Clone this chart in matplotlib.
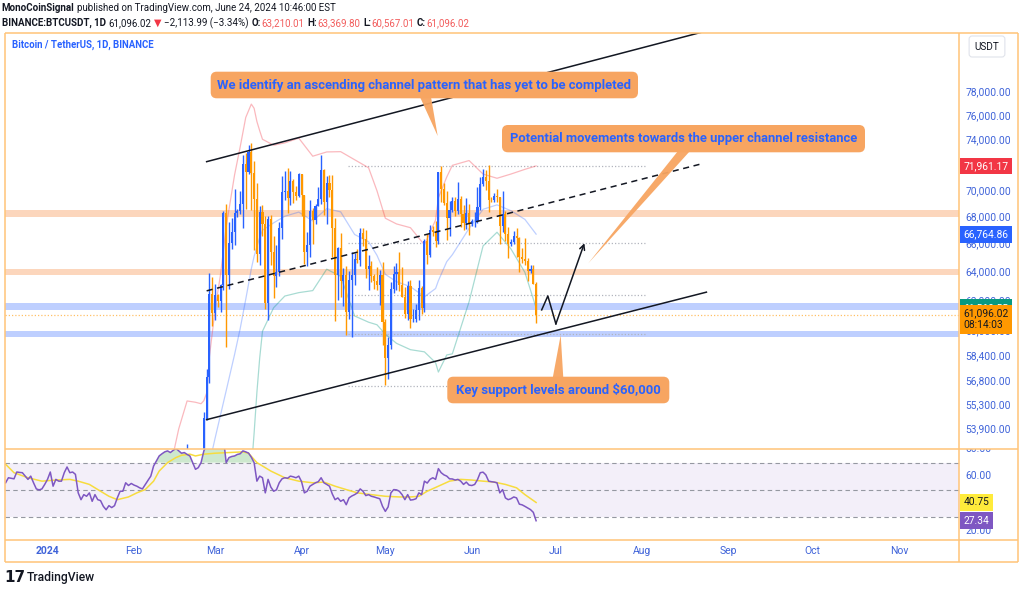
import numpy as np
import pandas as pd
import matplotlib
matplotlib.use("Agg")
import matplotlib.pyplot as plt
import matplotlib.dates as mdates
import matplotlib.text as mtext
from matplotlib.patches import FancyBboxPatch, Polygon
from matplotlib.transforms import Bbox, TransformedBbox
from matplotlib.ticker import NullLocator, NullFormatter

plt.rcParams['font.family'] = ['Roboto', 'DejaVu Sans']

# ---------------- data: daily BTC/USDT candles ----------------
candle_start = '2024-02-19'
opens = [52140, 51780, 52280, 51850, 51300, 50730, 51570, 51730, 54495, 57085, 62504,
         61198, 62440, 62029, 63168, 68330, 63801, 66106, 66925, 68300, 68498, 69020, 72123, 71481, 73083, 71397, 69403,
         65316, 68390, 67548, 61912, 67913, 65491, 63778, 64062, 67234, 69959, 69987, 69455, 70744, 69892, 69645,
         71333, 69702, 65446, 65980, 68508, 67837, 68896, 69362, 71632, 69139, 70587, 70060, 67195, 63821, 65738,
         63426, 63811, 61276, 63512, 63843, 64994, 64926, 66837, 66407, 64276, 64481, 63755, 63419, 63113, 63841,
         60636, 58254, 59123, 62889, 63891, 64031, 63161, 62334, 61187, 63049, 60792, 60793, 61448, 62901, 61553,
         66267, 65231, 67051, 66940, 66278, 71446, 70136, 69122, 67929, 68526, 69265, 68518, 69394, 68296, 67578, 68364,
         67491, 67706, 67751, 68804, 70567, 71082, 70757, 69342, 69305, 69647, 69512, 67332, 68241, 66756, 66011,
         66191, 66639, 66490, 65140, 64960, 64828, 64096, 64252, 63210]
highs = [52490, 52985, 52370, 52060, 51550, 51700, 51960, 54938, 57588, 64000, 63676,
         63230, 62480, 63230, 68500, 69000, 67637, 67985, 70136, 68670, 70000, 72800, 72969, 73650, 73777, 72358, 70613,
         68845, 68920, 68106, 68100, 68200, 66650, 65970, 67624, 71150, 71561, 71769, 71552, 70913, 70357, 71366,
         71342, 69708, 66914, 69291, 68725, 69000, 70326, 72797, 71758, 71172, 71256, 71227, 67932, 65840, 66867,
         64355, 64486, 64125, 65481, 65419, 65665, 67233, 67199, 67075, 65275, 64789, 63923, 64370, 64174, 64735,
         60841, 59602, 63320, 64494, 64646, 65500, 64390, 62985, 63421, 63469, 61490, 61818, 63450, 63099, 66444,
         66752, 67459, 67387, 67700, 71515, 71979, 70623, 70041, 69220, 69562, 69562, 70687, 69590, 68920, 69500, 69025,
         67857, 68409, 70288, 71063, 71758, 71625, 71997, 69582, 69850, 70195, 69560, 69999, 68449, 67294, 66402,
         66996, 67188, 66566, 65727, 66482, 65066, 64520, 64546, 63370]
lows = [51680, 50625, 50800, 50930, 50520, 50580, 51280, 50931, 54450, 56690, 60364,
        60777, 61593, 61321, 62820, 59005, 62848, 65655, 66000, 68042, 68230, 67194, 68620, 71333, 68555, 65630, 64780,
        64545, 66601, 61500, 60775, 64529, 62260, 63000, 63790, 66385, 69280, 68359, 68904, 69076, 69326, 69565,
        68110, 64586, 64493, 65113, 66011, 67491, 68824, 69043, 68210, 67518, 69571, 65086, 60660, 62134, 62274,
        61716, 59768, 60833, 59651, 63100, 64693, 64500, 65864, 63589, 62783, 63322, 62824, 62781, 61795, 59120,
        56552, 56937, 58849, 62599, 62822, 62700, 62285, 60888, 60769, 60187, 60630, 60632, 60750, 61152, 61319,
        64602, 65119, 66600, 65857, 66060, 69162, 68900, 66312, 66622, 68400, 68128, 68250, 67278, 67075, 67118, 66670,
        67386, 67257, 67612, 68567, 70383, 70119, 68420, 69182, 69160, 69202, 66051, 66902, 66251, 65056, 65871,
        66018, 65104, 64060, 64693, 64559, 63379, 63944, 63178, 60567]
closes = [51780, 52280, 51850, 51300, 50730, 51570, 51730, 54522, 57085, 62504, 61198,
          62440, 62029, 63168, 68330, 63801, 66106, 66925, 68300, 68498, 69020, 72123, 71481, 73083, 71397, 69403, 65316,
          68390, 67548, 61912, 67913, 65491, 63778, 64062, 67234, 69959, 69987, 69455, 70744, 69892, 69645, 71333,
          69702, 65446, 65980, 68508, 67837, 68896, 69362, 71632, 69139, 70587, 70060, 67195, 63821, 65738, 63426,
          63811, 61276, 63512, 63843, 64994, 64926, 66837, 66407, 64276, 64481, 63755, 63419, 63113, 63841, 60636,
          58254, 59123, 62889, 63891, 64031, 63161, 62334, 61187, 63049, 60792, 60793, 61448, 62901, 61553, 66267,
          65231, 67051, 66940, 66278, 71446, 70136, 69122, 67929, 68526, 69265, 68518, 69394, 68296, 67578, 68364, 67491,
          67706, 67751, 68804, 70567, 71082, 70757, 69342, 69305, 69647, 69512, 67332, 68241, 66756, 66011, 66191,
          66639, 66490, 65140, 64960, 64828, 64096, 64252, 63210, 61096]

# ---------------- Bollinger bands ----------------
bb_upper_dates = ['2024-02-15', '2024-02-17', '2024-02-20', '2024-02-23', '2024-02-25', '2024-02-26', '2024-02-27',
                  '2024-02-28', '2024-02-29', '2024-03-01', '2024-03-03', '2024-03-05', '2024-03-08', '2024-03-10',
                  '2024-03-12', '2024-03-14', '2024-03-15', '2024-03-16', '2024-03-17', '2024-03-18', '2024-03-22',
                  '2024-03-26', '2024-03-31', '2024-04-05', '2024-04-10', '2024-04-15', '2024-04-20', '2024-04-25',
                  '2024-04-28', '2024-05-01', '2024-05-05', '2024-05-10', '2024-05-15', '2024-05-19', '2024-05-20',
                  '2024-05-23', '2024-05-25', '2024-05-31', '2024-06-05', '2024-06-10', '2024-06-15', '2024-06-20',
                  '2024-06-24']
bb_upper = [52400, 53900, 55580, 55500, 55410, 55600, 56061, 58374, 59865, 61413, 63909, 67304, 71257, 73469,
            75897, 77020, 76669, 75562, 74800, 74101, 73619, 73809, 74195, 72735, 73077, 73100, 72454, 71817,
            70027, 67942, 67518, 67238, 65982, 67812, 69487, 71091, 72008, 72389, 71322, 70992, 71324, 71693, 71961]
bb_mid_dates = ['2024-02-28', '2024-03-01', '2024-03-05', '2024-03-08', '2024-03-10', '2024-03-12', '2024-03-14',
                '2024-03-15', '2024-03-16', '2024-03-17', '2024-03-18', '2024-03-22', '2024-03-26', '2024-03-31',
                '2024-04-05', '2024-04-10', '2024-04-15', '2024-04-20', '2024-04-25', '2024-04-28', '2024-05-01',
                '2024-05-05', '2024-05-10', '2024-05-15', '2024-05-19', '2024-05-20', '2024-05-23', '2024-05-25',
                '2024-05-31', '2024-06-05', '2024-06-10', '2024-06-15', '2024-06-20', '2024-06-24']
bb_mid = [51894, 53331, 56210, 58489, 60169, 62143, 64266, 65157, 65836, 66530, 67053, 67599, 68091, 68401,
          67741, 68659, 68420, 66738, 66211, 65231, 63878, 63366, 63020, 62322, 62890, 63431, 64777, 65270,
          67187, 68612, 68948, 68506, 67853, 66765]
bb_lower_dates = ['2024-03-14', '2024-03-15', '2024-03-16', '2024-03-17', '2024-03-18', '2024-03-22', '2024-03-26',
                  '2024-03-31', '2024-04-05', '2024-04-10', '2024-04-15', '2024-04-20', '2024-04-25', '2024-04-28',
                  '2024-05-01', '2024-05-05', '2024-05-10', '2024-05-15', '2024-05-19', '2024-05-20', '2024-05-23',
                  '2024-05-25', '2024-05-31', '2024-06-05', '2024-06-10', '2024-06-15', '2024-06-20', '2024-06-24']
bb_lower = [51512, 53645, 56110, 58260, 60005, 61579, 62373, 62607, 62747, 64241, 63740, 61022, 60605, 60435,
            59814, 59214, 58802, 58662, 57968, 57375, 58463, 58532, 61985, 65902, 66904, 65688, 64013, 61569]

# ---------------- RSI (daily) ----------------
rsi_start = '2023-12-17'
rsi = [55.2, 58.9, 58.5, 58.1, 63.1, 62.8, 62.6, 60.1, 57.7, 60.1, 55.2, 50.7, 50.0, 50.7, 54.0,
       57.7, 63.1, 52.7, 57.7, 56.4, 56.4, 62.6, 66.8, 62.6, 63.1, 61.4, 47.8, 42.8, 46.5, 45.3, 47.8,
       41.6, 46.5, 42.8, 42.1, 37.9, 35.4, 38.4, 37.0, 38.4, 44.1, 49.0, 49.0, 55.2, 53.2, 54.7,
       53.5, 52.7, 51.5, 50.7, 53.9, 57.0, 60.1, 67.5, 71.2, 74.9, 76.5, 77.9, 78.6, 77.4, 79.0,
       80.4, 78.6, 76.9, 77.4, 76.0, 74.9, 70.0, 65.1, 66.3, 70.0, 78.6, 83.0, 87.0, 84.0,
       85.0, 84.0, 85.0, 88.0, 70.0, 73.7, 74.5, 74.9, 76.0, 76.5, 78.6, 77.9, 77.0, 74.0, 70.0,
       56.4, 60.1, 58.9, 47.8, 57.7, 52.0, 49.0, 50.0, 55.2, 58.1, 58.9, 58.5, 60.1, 59.6, 58.9, 60.1,
       56.0, 47.8, 49.0, 52.7, 54.0, 55.2, 56.0, 58.9, 55.2, 54.0, 52.7, 47.0, 42.8, 44.1, 41.6,
       42.8, 39.1, 44.1, 45.5, 46.5, 47.8, 50.7, 49.0, 45.8, 46.5, 45.3, 44.8, 44.1, 43.5, 37.9,
       34.2, 37.5, 47.8, 50.2, 50.0, 49.0, 46.5, 42.8, 46.5, 42.5, 42.8, 43.5, 47.8, 46.5, 56.4,
       55.0, 57.7, 58.9, 57.7, 65.6, 62.6, 61.0, 60.1, 58.1, 58.0, 57.2, 57.7, 56.4, 54.0, 55.7, 53.5,
       53.2, 54.0, 57.5, 62.6, 63.0, 61.0, 56.4, 56.0, 55.7, 55.2, 47.8, 50.2, 44.1, 42.8, 43.5,
       44.8, 44.1, 39.5, 39.0, 37.9, 36.7, 35.5, 33.5, 27.34]
rsi_ma_dates = ['2023-12-17', '2023-12-20', '2023-12-25', '2023-12-30', '2024-01-04', '2024-01-09', '2024-01-12',
                '2024-01-16', '2024-01-20', '2024-01-23', '2024-01-26', '2024-01-30', '2024-02-02', '2024-02-05',
                '2024-02-08', '2024-02-10', '2024-02-13', '2024-02-16', '2024-02-18', '2024-02-21', '2024-02-23',
                '2024-02-26', '2024-03-01', '2024-03-06', '2024-03-11', '2024-03-13', '2024-03-16', '2024-03-21',
                '2024-03-26', '2024-03-31', '2024-04-05', '2024-04-09', '2024-04-13', '2024-04-17', '2024-04-21',
                '2024-04-26', '2024-05-01', '2024-05-06', '2024-05-10', '2024-05-13', '2024-05-16', '2024-05-20',
                '2024-05-24', '2024-05-28', '2024-06-01', '2024-06-05', '2024-06-09', '2024-06-13', '2024-06-17',
                '2024-06-20', '2024-06-24']
rsi_ma = [68.8, 62.6, 58.9, 56.4, 57.2, 57.7, 56.4, 54.0, 49.0, 45.3, 42.8, 44.8, 47.8, 50.2,
          56.4, 63.8, 70.0, 73.7, 75.4, 76.2, 74.9, 76.2, 76.9, 77.4, 77.9, 76.9, 70.0, 63.8,
          58.9, 56.4, 55.2, 55.7, 52.7, 50.2, 47.8, 46.5, 45.3, 44.8, 44.8, 45.3, 49.0, 52.7,
          56.4, 57.7, 57.2, 56.4, 55.7, 54.0, 51.5, 46.5, 40.75]

# ---------------- drawings (time, price) ----------------
channel_upper = (['2024-02-27', '2024-08-23'], [72300, 83400])
channel_mid = (['2024-02-27', '2024-08-23'], [62730, 72170])
channel_lower = (['2024-02-27', '2024-08-24'], [54450, 62640])
zigzag = (['2024-06-26 00:00', '2024-06-28 05:00', '2024-07-01 02:00', '2024-07-11 07:00'],
          [61430, 62380, 60490, 66100])
orange_zones = [(68040, 68530), (63840, 64280)]
blue_zones = [(61450, 61920), (59660, 59990)]
dotted_levels = [71961, 66100, 62450, 59820, 56530]
dotted_span = ('2024-04-17 16:00', '2024-08-02 16:00')
last_price = 61096.02
price_ticks = [78000, 76000, 74000, 70000, 68000, 66000, 64000, 62000, 60000, 58400, 56800, 55300, 53900]
rsi_ticks = [80, 60, 20]
month_ticks = ['2024-01-01', '2024-02-01', '2024-03-01', '2024-04-01', '2024-05-01', '2024-06-01',
               '2024-07-01', '2024-08-01', '2024-09-01', '2024-10-01', '2024-11-01']
month_labels = ['2024', 'Feb', 'Mar', 'Apr', 'May', 'Jun', 'Jul', 'Aug', 'Sep', 'Oct', 'Nov']
value_labels = [(71961.17, '71,961.17', '#F23645', 'white'),
                (66764.86, '66,764.86', '#2962FF', 'white'),
                (61568.55, '61,568.55', '#089981', 'white')]
rsi_value_labels = [(40.75, '40.75', '#FFEB3B', '#131722'), (27.34, '27.34', '#7E57C2', 'white')]

# ---------------- colours ----------------
BLUE = '#2962FF'
ORANGE = '#FF9800'
ZONE_ORANGE = '#F9A66B'
FRAME = '#FFC478'
AXTXT = '#3F63D9'
BOXC = '#F7A561'

# ---------------- layout ----------------
W, H = 1024, 590
fig = plt.figure(figsize=(W / 100, H / 100), dpi=100)
L, R, RR = 4.7, 959.0, 1018.0
T, MB, RB, BB = 32.7, 449.0, 540.0, 562.0


def fx(p):
    return p / W


def fy(p):
    return 1 - p / H


ax = fig.add_axes([fx(L), fy(MB), fx(R - L), (MB - T) / H])
axr = fig.add_axes([fx(L), fy(RB), fx(R - L), (RB - MB) / H])

base = mdates.date2num(pd.Timestamp('2024-01-01'))
xlim = (base - 15.33, base + 326.47)
for a in (ax, axr):
    a.set_xlim(*xlim)
    for s in a.spines.values():
        s.set_visible(False)


def dn(lst):
    return mdates.date2num(pd.to_datetime(lst))


# ---------------- main pane ----------------
ax.set_yscale('log')
ax.set_ylim(52721, 83310)
ax.yaxis.set_major_locator(NullLocator())
ax.yaxis.set_minor_locator(NullLocator())
ax.yaxis.set_minor_formatter(NullFormatter())
ax.set_xticks([])

for lo, hi in orange_zones:
    ax.axhspan(lo, hi, color=ZONE_ORANGE, alpha=0.45, lw=0, zorder=1)
for lo, hi in blue_zones:
    ax.axhspan(lo, hi, color=BLUE, alpha=0.3, lw=0, zorder=1)
ds = dn(list(dotted_span))
for lv in dotted_levels:
    ax.hlines(lv, ds[0], ds[1], colors='#B2B5BE', lw=0.9, linestyles=(0, (1, 1.6)), zorder=1.5)
ax.axhline(last_price, color=ORANGE, lw=0.9, ls=(0, (1, 1.6)), alpha=0.6, zorder=1.5)

ax.plot(dn(bb_upper_dates), bb_upper, color='#F23645', alpha=0.35, lw=0.9, zorder=2)
ax.plot(dn(bb_mid_dates), bb_mid, color=BLUE, alpha=0.3, lw=0.9, zorder=2)
ax.plot(dn(bb_lower_dates), bb_lower, color='#089981', alpha=0.35, lw=0.9, zorder=2)

o = np.array(opens, float)
hgh = np.array(highs, float)
low = np.array(lows, float)
c = np.array(closes, float)
cd = mdates.date2num(pd.date_range(candle_start, periods=len(c), freq='D'))
cols = np.where(c >= o, BLUE, ORANGE)
ax.vlines(cd, low, hgh, colors=cols, lw=1.0, zorder=3)
ax.bar(cd, np.maximum(np.abs(c - o), 40), bottom=np.minimum(o, c), width=0.75, color=cols, lw=0, zorder=3.1)

for (dts, prs), ls in ((channel_upper, '-'), (channel_mid, (0, (4, 3))), (channel_lower, '-')):
    ax.plot(dn(dts), prs, color='#131722', lw=1.1, ls=ls, zorder=4)
zx = dn(zigzag[0])
zy = zigzag[1]
ax.plot(zx[:-1], zy[:-1], color='#131722', lw=1.1, zorder=4)
ax.annotate('', xy=(zx[-1], zy[-1]), xytext=(zx[-2], zy[-2]),
            arrowprops=dict(arrowstyle='->', color='#131722', lw=1.1, mutation_scale=9, shrinkA=0, shrinkB=0),
            zorder=4)

ytr = ax.get_yaxis_transform()
for p in price_ticks:
    ax.annotate(f'{p:,.2f}', xy=(1, p), xycoords=ytr, xytext=(4.4, 0), textcoords='offset points',
                ha='left', va='center', fontsize=7.4, color=AXTXT, annotation_clip=False, zorder=5)
for p, txt, fc, tc in value_labels:
    ax.annotate(txt, xy=(1, p), xycoords=ytr, xytext=(3.3, 0), textcoords='offset points',
                ha='left', va='center', fontsize=7.4, color=tc, annotation_clip=False, zorder=6,
                bbox=dict(boxstyle='square,pad=0.33', fc=fc, ec='none'))
ax.annotate(f'{last_price:,.2f}\n08:14:03', xy=(1, last_price), xycoords=ytr, xytext=(3.3, -3.3),
            textcoords='offset points', ha='left', va='center', fontsize=7.4, color='#131722',
            linespacing=1.25, annotation_clip=False, zorder=7,
            bbox=dict(boxstyle='square,pad=0.33', fc=ORANGE, ec='none'))

# ---------------- RSI pane ----------------
axr.set_ylim(13.2, 80)
axr.set_yticks([])
rd = mdates.date2num(pd.date_range(rsi_start, periods=len(rsi), freq='D'))
rv = np.array(rsi)
axr.axhspan(30, 70, color='#7E57C2', alpha=0.09, lw=0, zorder=1)
for lv in (70, 50, 30):
    axr.axhline(lv, color='#9598A1', lw=0.8, ls=(0, (4, 3)), zorder=1.5)
axr.fill_between(rd, 70, rv, where=rv >= 70, interpolate=True, color='#4CAF50', alpha=0.28, lw=0, zorder=2)
axr.plot(dn(rsi_ma_dates), rsi_ma, color='#F7DC3E', lw=1.1, zorder=3)
axr.plot(rd, rv, color='#7E57C2', lw=1.1, zorder=4)

axr.set_xticks(dn(month_ticks))
axr.set_xticklabels(month_labels)
axr.tick_params(axis='x', length=0, pad=4.2, labelsize=7.5, labelcolor=AXTXT)
axr.get_xticklabels()[0].set_fontweight('bold')

clip = TransformedBbox(Bbox.from_extents(fx(R), fy(RB), fx(RR), fy(MB)), fig.transFigure)
rtr = axr.get_yaxis_transform()
for v in rsi_ticks:
    t = axr.annotate(f'{v:.2f}', xy=(1, v), xycoords=rtr, xytext=(4.4, 0), textcoords='offset points',
                     ha='left', va='center', fontsize=7.4, color=AXTXT, annotation_clip=False, zorder=5)
    t.set_clip_box(clip)
    t.set_clip_on(True)
for v, txt, fc, tc in rsi_value_labels:
    axr.annotate(txt, xy=(1, v), xycoords=rtr, xytext=(3.3, 0), textcoords='offset points',
                 ha='left', va='center', fontsize=7.4, color=tc, annotation_clip=False, zorder=6,
                 bbox=dict(boxstyle='square,pad=0.33', fc=fc, ec='none'))

# ---------------- overlay (frame, header, notes) ----------------
ov = fig.add_axes([0, 0, 1, 1], zorder=10)
ov.set_xlim(0, W)
ov.set_ylim(H, 0)
ov.axis('off')
ov.patch.set_alpha(0)

for xs, ys in (([L, RR], [T, T]), ([L, RR], [BB, BB]), ([L, L], [T, BB]), ([RR, RR], [T, BB]),
               ([L, RR], [MB, MB]), ([L, RR], [RB, RB]), ([R, R], [T, BB])):
    ov.plot(xs, ys, color=FRAME, lw=1.1, solid_capstyle='butt')


def chain(parts, x, y, size):
    arts, gaps, prev = [], [], None
    for txt, col, wt, gap in parts:
        kw = dict(color=col, fontsize=size, fontweight=wt, va='center', ha='left')
        if prev is None:
            t = ov.text(x, y, txt, **kw)
        else:
            t = ov.annotate(txt, xy=(1, 0.5), xycoords=prev, xytext=(gap, 0), textcoords='offset points', **kw)
        arts.append(t)
        gaps.append(gap)
        prev = t
    return arts, gaps


def fit(arts, gaps, target):
    fig.canvas.draw()
    r = fig.canvas.get_renderer()
    bbs = [a.get_window_extent(r) for a in arts]
    w = max(b.x1 for b in bbs) - min(b.x0 for b in bbs)
    s = target / w
    for a, g in zip(arts, gaps):
        a.set_fontsize(a.get_fontsize() * s)
        if isinstance(a, mtext.Annotation):
            a.xyann = (g * s, 0)


DK = '#131722'
RED = '#F25C5C'
h1 = chain([('MonoCoinSignal', DK, 'bold', 0),
            ('published on TradingView.com, June 24, 2024 10:46:00 EST', DK, 'normal', 2.2)], 1.7, 7.6, 7.5)
h2 = chain([('BINANCE:BTCUSDT, 1D', DK, 'bold', 0), ('61,096.02', DK, 'normal', 2.2),
            ('\u25BC', '#F23645', 'normal', 2.0), ('\u22122,113.99 (\u22123.34%)', DK, 'normal', 2.0),
            ('O:', DK, 'bold', 2.2), ('63,210.01', RED, 'normal', 0.2),
            ('H:', DK, 'bold', 2.2), ('63,369.80', RED, 'normal', 0.2),
            ('L:', DK, 'bold', 2.2), ('60,567.01', RED, 'normal', 0.2),
            ('C:', DK, 'bold', 2.2), ('61,096.02', RED, 'normal', 0.2)], 1.7, 22.9, 7.5)
ttl = chain([('Bitcoin / TetherUS, 1D, BINANCE', BLUE, 'bold', 0)], 11.7, 45.3, 7.5)

ov.text(987, 46.5, 'USDT', ha='center', va='center', fontsize=7.2, color=DK,
        bbox=dict(boxstyle='round,pad=0.55,rounding_size=0.3', fc='white', ec='#E0E3EB', lw=0.8))

notes = [((210.7, 71.7, 427.3, 26.6), [(420, 97), (431, 97), (437.7, 136)],
          'We identify an ascending channel pattern that has yet to be completed', 413),
         ((502, 125, 363, 27.3), [(678, 151), (690, 151), (588.3, 263.3)],
          'Potential movements towards the upper channel resistance', 347),
         ((447.3, 376.7, 222, 26.6), [(552.7, 378), (563.3, 378), (560.7, 335)],
          'Key support levels around $60,000', 205)]
note_texts = []
for (bx, by, bw, bh), tri, txt, tw in notes:
    ov.add_patch(Polygon(tri, closed=True, fc=BOXC, ec='none', alpha=0.95, zorder=2))
    ov.add_patch(FancyBboxPatch((bx, by), bw, bh, boxstyle='round,pad=0,rounding_size=6',
                                fc=BOXC, ec='none', zorder=3))
    t = ov.text(bx + bw / 2, by + bh / 2 + 0.3, txt, ha='center', va='center', fontsize=9,
                fontweight='bold', color=BLUE, zorder=4)
    note_texts.append((t, tw))

logo = ov.text(4.5, 577.5, '17', fontsize=11, fontweight='heavy', color=DK, va='center', ha='left',
               family=['DejaVu Sans'])
tvt = ov.text(27, 577.5, 'TradingView', fontsize=9.6, fontweight='medium', color=DK, va='center', ha='left')

fit(*h1, 332)
fit(*h2, 466)
fit(*ttl, 142)
for t, tw in note_texts:
    fit([t], [0], tw)
fit([tvt], [0], 68)

fig.savefig('out.png', dpi=100)
